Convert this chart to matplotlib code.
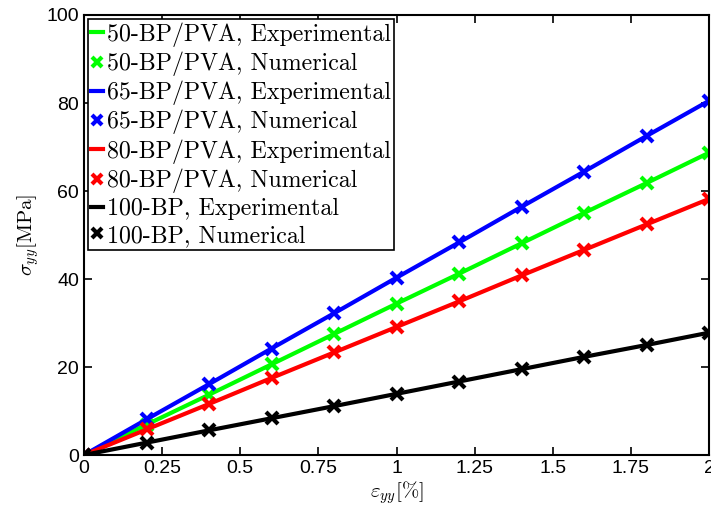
import matplotlib
matplotlib.use("Agg")
import matplotlib.pyplot as plt

plt.rcParams['mathtext.fontset'] = 'cm'
plt.rcParams['font.family'] = 'Liberation Sans'

# Deformation (%) et contraintes (MPa)
strain = [0, 0.2, 0.4, 0.6, 0.8, 1.0, 1.2, 1.4, 1.6, 1.8, 2.0]
stress_50 = [0, 6.9, 13.7, 20.6, 27.5, 34.4, 41.2, 48.1, 55.0, 61.8, 68.7]
stress_65 = [0, 8.1, 16.1, 24.2, 32.2, 40.3, 48.3, 56.4, 64.4, 72.5, 80.5]
stress_80 = [0, 5.8, 11.6, 17.5, 23.3, 29.1, 34.9, 40.8, 46.6, 52.4, 58.2]
stress_100 = [0, 2.8, 5.6, 8.35, 11.1, 13.9, 16.7, 19.5, 22.3, 25.0, 27.8]

series = [
    ("50-BP/PVA", stress_50, (0, 1, 0)),
    ("65-BP/PVA", stress_65, (0, 0, 1)),
    ("80-BP/PVA", stress_80, (1, 0, 0)),
    ("100-BP", stress_100, (0, 0, 0)),
]

fig = plt.figure(figsize=(7.11, 5.14), dpi=100)
ax = fig.add_axes([84 / 711, 59 / 514, 625 / 711, 440 / 514])

for nom, vals, c in series:
    ax.plot(strain, vals, '-', color=c, lw=3, label=nom + ", Experimental")
    ax.plot(strain, vals, 'x', color=c, ms=8.5, mew=3, label=nom + ", Numerical")

ax.set_xlim(0, 2)
ax.set_ylim(0, 100)
ax.set_xticks([0, 0.25, 0.5, 0.75, 1, 1.25, 1.5, 1.75, 2])
ax.set_xticklabels(["0", "0.25", "0.5", "0.75", "1", "1.25", "1.5", "1.75", "2"])
ax.set_yticks([0, 20, 40, 60, 80, 100])
ax.tick_params(direction='in', top=True, right=True, labelsize=14, width=1.2, length=6)
for s in ax.spines.values():
    s.set_linewidth(1.5)

ax.set_xlabel(r"$\varepsilon_{yy}[\%]$", fontsize=15, labelpad=2)
ax.set_ylabel(r"$\sigma_{yy}[\mathrm{MPa}]$", fontsize=15, labelpad=4)

leg = ax.legend(loc='upper left', prop={'family': 'cmr10', 'size': 17.2},
                handlelength=0.5, handletextpad=0.15, borderpad=0.15,
                labelspacing=0.2, borderaxespad=0.15, fancybox=False,
                framealpha=1, edgecolor='black', markerscale=0.8)
leg.get_frame().set_linewidth(1.2)

fig.savefig("out.png", dpi=100)
